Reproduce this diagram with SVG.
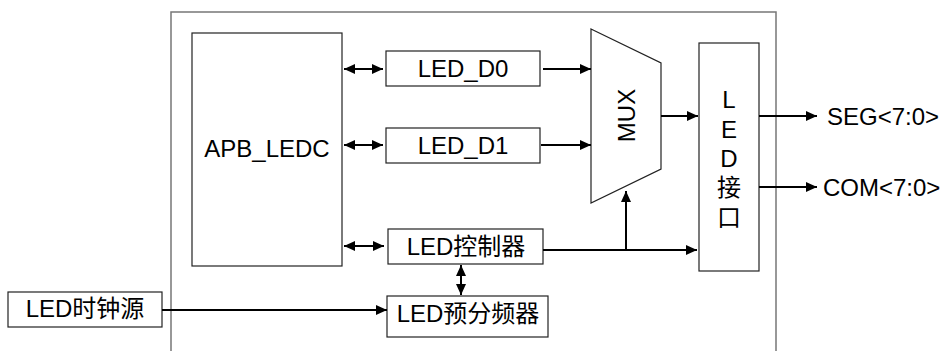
<svg xmlns="http://www.w3.org/2000/svg" width="946" height="351" viewBox="0 0 946 351">
<style>
.box{fill:#fff;stroke:#222;stroke-width:1.2}
.outer{fill:none;stroke:#777;stroke-width:1.5}
.t{font-family:"Liberation Sans",Arial,"Noto Sans CJK SC",sans-serif;font-size:24px;fill:#000;text-anchor:middle}
.c{stroke:#000;stroke-width:2;fill:none}
</style>
<defs>
<marker id="ah" markerUnits="userSpaceOnUse" markerWidth="11" markerHeight="10" refX="11" refY="5" orient="auto-start-reverse" viewBox="0 0 11 10">
<path d="M0,0 L11,5 L0,10 z" fill="#000"/>
</marker>
</defs>
<rect x="0" y="0" width="946" height="351" fill="#fff"/>
<g id="outer"><path class="outer" d="M171,360 L171,12 L776,12 L776,360"/></g>
<g id="apb"><rect class="box" x="192" y="33" width="150" height="233"/><text class="t" x="267" y="157">APB_LEDC</text></g>
<g id="d0"><rect class="box" x="386" y="51" width="154" height="35"/><text class="t" x="463" y="77">LED_D0</text></g>
<g id="d1"><rect class="box" x="386" y="128" width="154" height="35"/><text class="t" x="463" y="154">LED_D1</text></g>
<g id="mux"><polygon class="box" points="591,29 661,63 661,169 591,203"/><text class="t" transform="translate(635,115.5) rotate(-90)">MUX</text></g>
<g id="ledif"><rect class="box" x="699" y="43" width="60" height="228"/>
<text class="t" x="729" y="108">L</text><text class="t" x="729" y="138">E</text><text class="t" x="729" y="167">D</text><text class="t" x="729" y="196">接</text><text class="t" x="729" y="226">口</text></g>
<g id="ctrl"><rect class="box" x="388" y="229" width="155" height="35"/><text class="t" x="466" y="255">LED控制器</text></g>
<g id="presc"><rect class="box" x="387" y="296" width="161" height="41"/><text class="t" x="468" y="322">LED预分频器</text></g>
<g id="clk"><rect class="box" x="8" y="292" width="154" height="35"/><text class="t" x="85" y="317">LED时钟源</text></g>
<g id="seg"><text class="t" x="827" y="125" style="text-anchor:start">SEG&lt;7:0&gt;</text></g>
<g id="com"><text class="t" x="823" y="196" style="text-anchor:start">COM&lt;7:0&gt;</text></g>
<g id="connectors">
<line class="c" x1="344" y1="69" x2="383" y2="69" marker-start="url(#ah)" marker-end="url(#ah)"/>
<line class="c" x1="344" y1="145" x2="383" y2="145" marker-start="url(#ah)" marker-end="url(#ah)"/>
<line class="c" x1="344" y1="246" x2="384" y2="246" marker-start="url(#ah)" marker-end="url(#ah)"/>
<line class="c" x1="543" y1="69" x2="591" y2="69" marker-end="url(#ah)"/>
<line class="c" x1="541" y1="145" x2="591" y2="145" marker-end="url(#ah)"/>
<line class="c" x1="661" y1="116" x2="698" y2="116" marker-end="url(#ah)"/>
<line class="c" x1="759" y1="116" x2="817" y2="116" marker-end="url(#ah)"/>
<line class="c" x1="759" y1="187" x2="817" y2="187" marker-end="url(#ah)"/>
<line class="c" x1="543" y1="250" x2="697" y2="250" marker-end="url(#ah)"/>
<line class="c" x1="626" y1="250" x2="626" y2="191" marker-end="url(#ah)"/>
<line class="c" x1="461" y1="265" x2="461" y2="295" marker-start="url(#ah)" marker-end="url(#ah)"/>
<line class="c" x1="162" y1="310" x2="387" y2="310" marker-end="url(#ah)"/>
</g>
</svg>
